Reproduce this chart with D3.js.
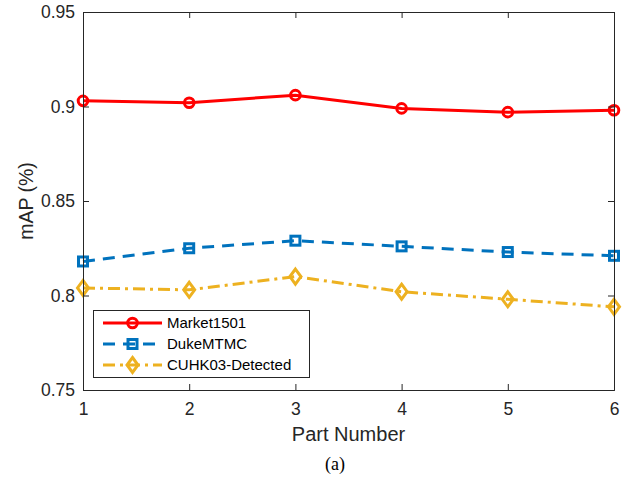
<!DOCTYPE html>
<html><head><meta charset="utf-8">
<script src="https://cdn.jsdelivr.net/npm/d3@7"></script>
<style>body{margin:0;background:#fff}svg{display:block}</style>
</head><body>
<script>
const partNumbers = [1, 2, 3, 4, 5, 6];
const market1501 = [0.903, 0.902, 0.906, 0.899, 0.897, 0.898];
const dukeMTMC = [0.818, 0.825, 0.829, 0.826, 0.823, 0.821];
const cuhk03 = [0.804, 0.803, 0.810, 0.802, 0.798, 0.794];
const yTicks = [0.75, 0.8, 0.85, 0.9, 0.95];
const yTickLabels = ["0.75", "0.8", "0.85", "0.9", "0.95"];
const seriesNames = ["Market1501", "DukeMTMC", "CUHK03-Detected"];

const W = 623, H = 483;
const m = {l: 83, r: 614, t: 12, b: 390};
const svg = d3.select("body").append("svg").attr("width", W).attr("height", H);
const x = d3.scaleLinear().domain([1, 6]).range([m.l, m.r]);
const y = d3.scaleLinear().domain([0.75, 0.95]).range([m.b, m.t]);
const axCol = "#262626";
const font = "Liberation Sans, Arial, sans-serif";

const series = [
  {name: seriesNames[0], vals: market1501, color: "#FF0000", dash: null, marker: "circle"},
  {name: seriesNames[1], vals: dukeMTMC, color: "#0072BD", dash: "12,8", marker: "square"},
  {name: seriesNames[2], vals: cuhk03, color: "#EDB120", dash: "12,5,3,5", marker: "diamond"}
];

function drawMarker(g, type, cx, cy, color) {
  if (type === "circle") {
    g.append("circle").attr("cx", cx).attr("cy", cy).attr("r", 4.8)
      .attr("fill", "none").attr("stroke", color).attr("stroke-width", 3);
  } else if (type === "square") {
    g.append("rect").attr("x", cx - 4.5).attr("y", cy - 4.5).attr("width", 9).attr("height", 9)
      .attr("fill", "none").attr("stroke", color).attr("stroke-width", 3);
  } else {
    g.append("path").attr("d", `M${cx},${cy-7.5}L${cx+5.5},${cy}L${cx},${cy+7.5}L${cx-5.5},${cy}Z`)
      .attr("fill", "none").attr("stroke", color).attr("stroke-width", 3);
  }
}

// lines
const line = d3.line().x((d, i) => x(partNumbers[i])).y(d => y(d));
series.forEach(s => {
  const g = svg.append("g");
  g.append("path").datum(s.vals).attr("d", line).attr("fill", "none")
    .attr("stroke", s.color).attr("stroke-width", 3)
    .attr("stroke-dasharray", s.dash);
  s.vals.forEach((v, i) => drawMarker(g, s.marker, x(partNumbers[i]), y(v), s.color));
});

// axes box
const xAxB = d3.axisBottom(x).tickValues(partNumbers).tickSize(-6).tickPadding(13).tickFormat(d3.format("d"));
const xAxT = d3.axisTop(x).tickValues(partNumbers).tickSize(-6).tickFormat("");
const yAxL = d3.axisLeft(y).tickValues(yTicks).tickSize(-6).tickPadding(8).tickFormat((d, i) => yTickLabels[i]);
const yAxR = d3.axisRight(y).tickValues(yTicks).tickSize(-6).tickFormat("");
function style(g) {
  g.selectAll("path,line").attr("stroke", axCol).attr("stroke-width", 1);
  g.selectAll("text").attr("fill", axCol).style("font-family", font).style("font-size", "17.5px");
}
svg.append("g").attr("transform", `translate(0,${m.b})`).call(xAxB).call(style);
svg.append("g").attr("transform", `translate(0,${m.t})`).call(xAxT).call(style);
svg.append("g").attr("transform", `translate(${m.l},0)`).call(yAxL).call(style);
svg.append("g").attr("transform", `translate(${m.r},0)`).call(yAxR).call(style);

// labels
svg.append("text").attr("x", (m.l + m.r) / 2).attr("y", 441).attr("text-anchor", "middle")
  .style("font-family", font).style("font-size", "20px").attr("fill", axCol).text("Part Number");
svg.append("text").attr("transform", `translate(33,${(m.t + m.b) / 2}) rotate(-90)`).attr("text-anchor", "middle")
  .style("font-family", font).style("font-size", "19.5px").attr("fill", axCol).text("mAP (%)");
svg.append("text").attr("x", 335).attr("y", 470).attr("text-anchor", "middle")
  .style("font-family", "Liberation Serif, Times New Roman, serif").style("font-size", "18px").attr("fill", "#000").text("(a)");

// legend
const lg = svg.append("g");
lg.append("rect").attr("x", 93.5).attr("y", 310.5).attr("width", 216).attr("height", 67)
  .attr("fill", "#fff").attr("stroke", axCol).attr("stroke-width", 1);
series.forEach((s, i) => {
  const ly = 323 + i * 21;
  lg.append("line").attr("x1", 103).attr("x2", 162).attr("y1", ly).attr("y2", ly)
    .attr("stroke", s.color).attr("stroke-width", 3).attr("stroke-dasharray", s.dash);
  drawMarker(lg, s.marker, 132.5, ly, s.color);
  lg.append("text").attr("x", 167).attr("y", ly).attr("dy", "0.35em")
    .style("font-family", font).style("font-size", "15px").attr("fill", "#000").text(s.name);
});
</script>
</body></html>
